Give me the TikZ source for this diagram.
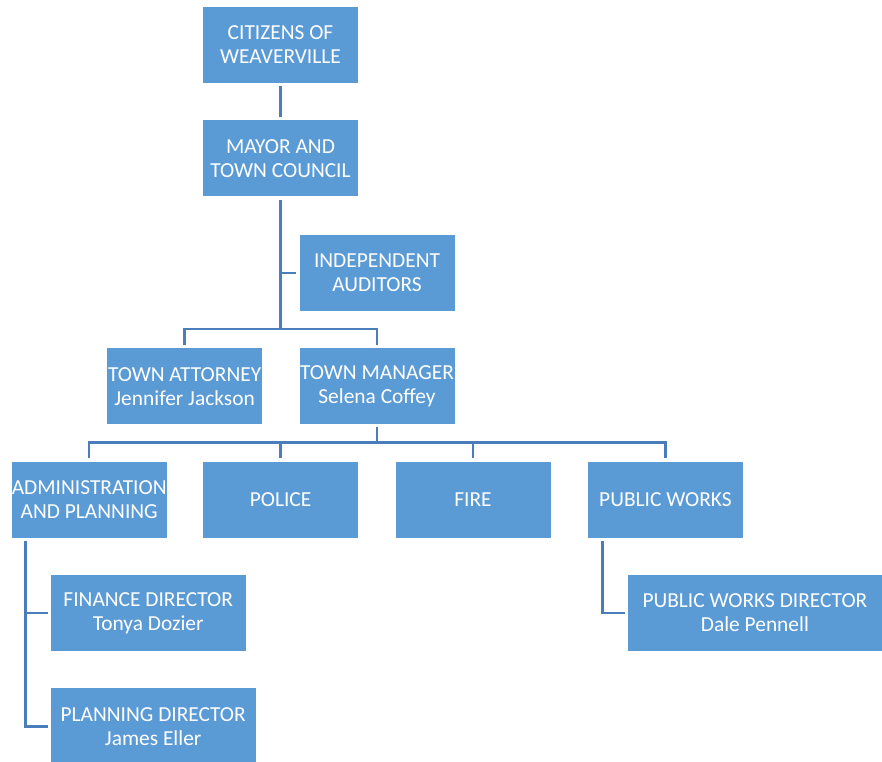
\documentclass[tikz,border=0pt]{standalone}
\usepackage{fontspec}
\setmainfont{Carlito}
\usepackage{tikz}
\usetikzlibrary{positioning,calc}
\usepackage{xcolor}
\definecolor{boxblue}{HTML}{5B9BD5}
\definecolor{lineblue}{HTML}{4A7EBB}

\begin{document}
\begin{tikzpicture}[
    unit/.style ={
        rectangle,
        minimum width=155pt,
        minimum height=76pt,
        inner xsep=0pt,
        fill=boxblue,
        text=white,
        align=center,
        font=\fontsize{21.4}{24}\selectfont
    },
    link/.style ={
        draw=lineblue,
        line width=2.5pt,
        shorten >=3pt
    }
    ]
    \useasboundingbox (0,0) rectangle (882pt,-761pt);

    \node[unit] (citizens) at (280.5pt,-45pt) {CITIZENS OF\\WEAVERVILLE};
    \node[unit] (mayor) [below=37pt of citizens] {MAYOR AND\\TOWN COUNCIL};
    \node[unit] (auditors) [below=38pt of mayor, xshift=96.5pt] {INDEPENDENT\\AUDITORS};
    \node[unit] (manager) [below=37pt of auditors] {TOWN MANAGER\\Selena Coffey};
    \node[unit] (attorney) [left=37pt of manager] {TOWN ATTORNEY\\Jennifer Jackson};
    \node[unit] (fire) [below=37pt of manager, xshift=96pt] {FIRE};
    \node[unit] (police) [left=37pt of fire] {POLICE};
    \node[unit] (admin) [left=36pt of police] {ADMINISTRATION\\AND PLANNING};
    \node[unit] (works) [right=37pt of fire] {PUBLIC WORKS};
    \node[unit, minimum width=195pt] (finance) [below=37pt of admin.south west, anchor=north west, xshift=39pt] {FINANCE DIRECTOR\\Tonya Dozier};
    \node[unit, minimum width=205pt] (planning) [below=37pt of finance.south west, anchor=north west] {PLANNING DIRECTOR\\James Eller};
    \node[unit, minimum width=254pt] (director) [below=37pt of works.south west, anchor=north west, xshift=40pt] {PUBLIC WORKS DIRECTOR\\Dale Pennell};

    \coordinate (upbar) at ($(manager.north)+(0,19pt)$);
    \coordinate (lowbar) at ($(manager.south)+(0,-18pt)$);
    \coordinate (adminrail) at ($(admin.south west)+(14pt,0)$);
    \coordinate (worksrail) at ($(works.south west)+(15pt,0)$);

    \draw[link, shorten <=3pt] (citizens) -- (mayor);
    \draw[link] (mayor.south |- upbar) -- (mayor.south);
    \draw[link] (mayor.south |- auditors.west) -- (auditors.west);
    \draw[link, shorten <=3pt] (attorney.north) -- (attorney.north |- upbar) -- (manager.north |- upbar) -- (manager.north);
    \draw[link] (lowbar) -- (manager.south);
    \draw[link, shorten <=3pt] (admin.north) -- (admin.north |- lowbar) -- (works.north |- lowbar) -- (works.north);
    \foreach \dst in {police, fire}
        \draw[link] (\dst.north |- lowbar) -- (\dst.north);
    \foreach \src/ \dst in {adminrail/finance, adminrail/planning, worksrail/director}
        \draw[link, shorten <=3pt] (\src) |- (\dst.west);
\end{tikzpicture}
\end{document}
